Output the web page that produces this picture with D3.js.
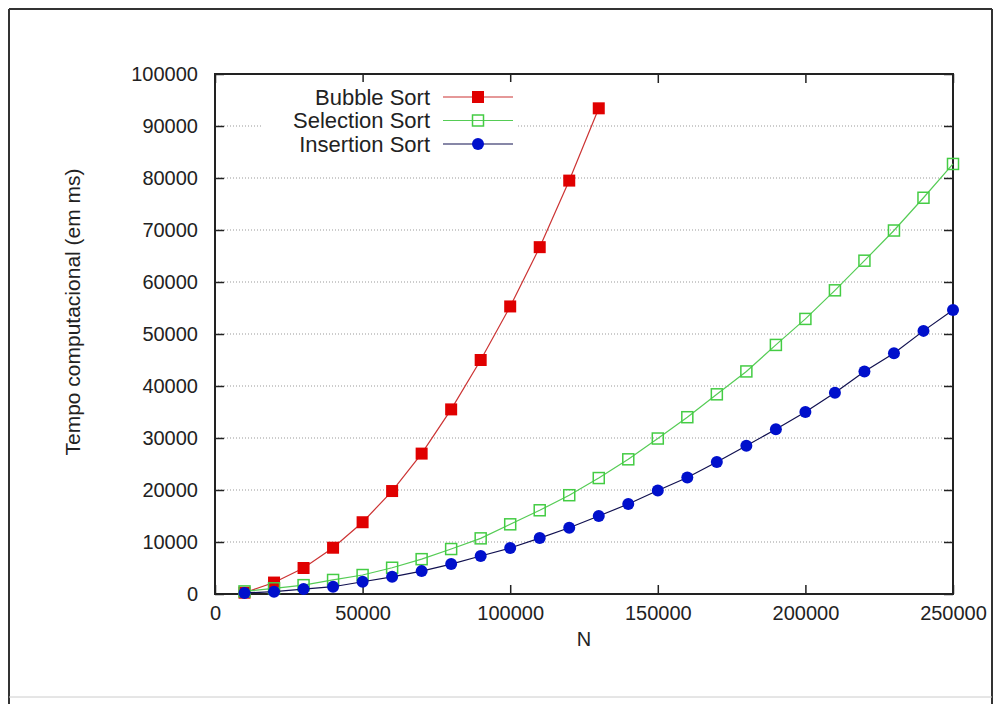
<!DOCTYPE html>
<html>
<head>
<meta charset="utf-8">
<script src="https://cdn.jsdelivr.net/npm/d3@7"></script>
<style>
  body { margin: 0; background: #fff; }
  svg { display: block; font-family: "Liberation Sans", Arial, sans-serif; }
</style>
</head>
<body>
<div id="chart"></div>
<script>
// Data
const nBubble = [10000, 20000, 30000, 40000, 50000, 60000, 70000, 80000, 90000, 100000, 110000, 120000, 130000];
const bubble = [250, 2200, 5000, 8900, 13800, 19800, 27000, 35500, 45000, 55300, 66700, 79500, 93400];

const nAll = [10000, 20000, 30000, 40000, 50000, 60000, 70000, 80000, 90000, 100000,
              110000, 120000, 130000, 140000, 150000, 160000, 170000, 180000, 190000, 200000,
              210000, 220000, 230000, 240000, 250000];
const selection = [500, 1100, 1700, 2700, 3650, 5050, 6700, 8650, 10700, 13400,
                   16100, 19000, 22300, 25900, 29900, 34000, 38400, 42800, 47900, 52900,
                   58400, 64100, 69900, 76200, 82700];
const insertion = [200, 450, 950, 1400, 2350, 3300, 4400, 5750, 7300, 8850,
                   10750, 12750, 15000, 17300, 19900, 22400, 25400, 28500, 31700, 35000,
                   38700, 42800, 46300, 50600, 54600];

const xTicks = [0, 50000, 100000, 150000, 200000, 250000];
const yTicks = [0, 10000, 20000, 30000, 40000, 50000, 60000, 70000, 80000, 90000, 100000];

const series = [
    { name: "Bubble Sort", xs: nBubble, ys: bubble, marker: "square", fill: "#e00000", stroke: "#e00000", line: "#cc3333" },
    { name: "Selection Sort", xs: nAll, ys: selection, marker: "open", fill: "none", stroke: "#44cc44", line: "#55cc55" },
    { name: "Insertion Sort", xs: nAll, ys: insertion, marker: "circle", fill: "#0010cc", stroke: "#0010cc", line: "#101050" }
];

const W = 997, H = 704;
const plot = { left: 215, top: 74, right: 953, bottom: 594 };

const svg = d3.select("#chart").append("svg")
    .attr("width", W)
    .attr("height", H);

// outer frame: dark on left, top, right; faint along the bottom
svg.append("line").attr("x1", 9).attr("x2", 9).attr("y1", 9).attr("y2", H)
    .attr("stroke", "#333").attr("stroke-width", 2);
svg.append("line").attr("x1", 992).attr("x2", 992).attr("y1", 9).attr("y2", H)
    .attr("stroke", "#333").attr("stroke-width", 2);
svg.append("line").attr("x1", 9).attr("x2", 992).attr("y1", 9).attr("y2", 9)
    .attr("stroke", "#333").attr("stroke-width", 2);
svg.append("line").attr("x1", 9).attr("x2", 992).attr("y1", 697).attr("y2", 697)
    .attr("stroke", "#ccc").attr("stroke-width", 1);

const x = d3.scaleLinear().domain([0, 250000]).range([plot.left, plot.right]);
const y = d3.scaleLinear().domain([0, 100000]).range([plot.bottom, plot.top]);

// gridlines
svg.append("g")
    .selectAll("line")
    .data(yTicks.filter(d => d > 0 && d < 100000))
    .enter()
    .append("line")
    .attr("x1", plot.left).attr("x2", plot.right)
    .attr("y1", d => y(d)).attr("y2", d => y(d))
    .attr("stroke", "#999")
    .attr("stroke-width", 1)
    .attr("stroke-dasharray", "1,2");

// axes (ticks pointing inward, mirrored)
const tickLen = 9;
const axisB = svg.append("g")
    .attr("transform", `translate(0,${plot.bottom})`)
    .call(d3.axisBottom(x).tickValues(xTicks).tickSize(-tickLen).tickPadding(12).tickFormat(d3.format("d")));
const axisL = svg.append("g")
    .attr("transform", `translate(${plot.left},0)`)
    .call(d3.axisLeft(y).tickValues(yTicks).tickSize(-tickLen).tickPadding(17).tickFormat(d3.format("d")));
const axisT = svg.append("g")
    .attr("transform", `translate(0,${plot.top})`)
    .call(d3.axisTop(x).tickValues(xTicks).tickSize(-tickLen).tickFormat(""));
const axisR = svg.append("g")
    .attr("transform", `translate(${plot.right},0)`)
    .call(d3.axisRight(y).tickValues(yTicks).tickSize(-tickLen).tickFormat(""));

[axisB, axisL, axisT, axisR].forEach(a => {
    a.select(".domain").remove();
    a.selectAll("line").attr("stroke", "#222").attr("stroke-width", 1.5);
    a.selectAll("text")
        .attr("fill", "#222")
        .style("font-size", "20px")
        .style("font-family", "\"Liberation Sans\", Arial, sans-serif");
});

// plot border
svg.append("rect")
    .attr("x", plot.left).attr("y", plot.top)
    .attr("width", plot.right - plot.left)
    .attr("height", plot.bottom - plot.top)
    .attr("fill", "none")
    .attr("stroke", "#222")
    .attr("stroke-width", 2);

// axis titles
svg.append("text")
    .attr("x", 584)
    .attr("y", 646)
    .attr("text-anchor", "middle")
    .attr("fill", "#222")
    .style("font-size", "20px")
    .text("N");

svg.append("text")
    .attr("transform", "translate(80,312) rotate(-90)")
    .attr("text-anchor", "middle")
    .attr("fill", "#222")
    .style("font-size", "21px")
    .text("Tempo computacional (em ms)");

function drawMarker(g, s, cx, cy) {
    if (s.marker === "circle") {
        g.append("circle").attr("cx", cx).attr("cy", cy).attr("r", 6)
            .attr("fill", s.fill);
    } else if (s.marker === "square") {
        g.append("rect").attr("x", cx - 6).attr("y", cy - 6).attr("width", 12).attr("height", 12)
            .attr("fill", s.fill);
    } else {
        g.append("rect").attr("x", cx - 5.5).attr("y", cy - 5.5).attr("width", 11).attr("height", 11)
            .attr("fill", "none").attr("stroke", s.stroke).attr("stroke-width", 1.5);
    }
}

const line = d3.line().x(d => x(d[0])).y(d => y(d[1]));

series.forEach(s => {
    const pts = s.xs.map((v, i) => [v, s.ys[i]]);
    const g = svg.append("g");
    g.append("path")
        .datum(pts)
        .attr("fill", "none")
        .attr("stroke", s.line)
        .attr("stroke-width", 1.2)
        .attr("d", line);
    pts.forEach(p => drawMarker(g, s, x(p[0]), y(p[1])));
});

// legend
const legend = svg.append("g");
legend.append("rect")
    .attr("x", 262).attr("y", 82).attr("width", 256).attr("height", 76)
    .attr("fill", "#fff");
series.forEach((s, i) => {
    const ly = 97 + i * 23.5;
    legend.append("text")
        .attr("x", 430).attr("y", ly)
        .attr("dy", "0.35em")
        .attr("text-anchor", "end")
        .attr("fill", "#222")
        .style("font-size", "22px")
        .text(s.name);
    legend.append("line")
        .attr("x1", 443).attr("x2", 513)
        .attr("y1", ly).attr("y2", ly)
        .attr("stroke", s.line)
        .attr("stroke-width", 1.2);
    drawMarker(legend, s, 478, ly);
});
</script>
</body>
</html>
